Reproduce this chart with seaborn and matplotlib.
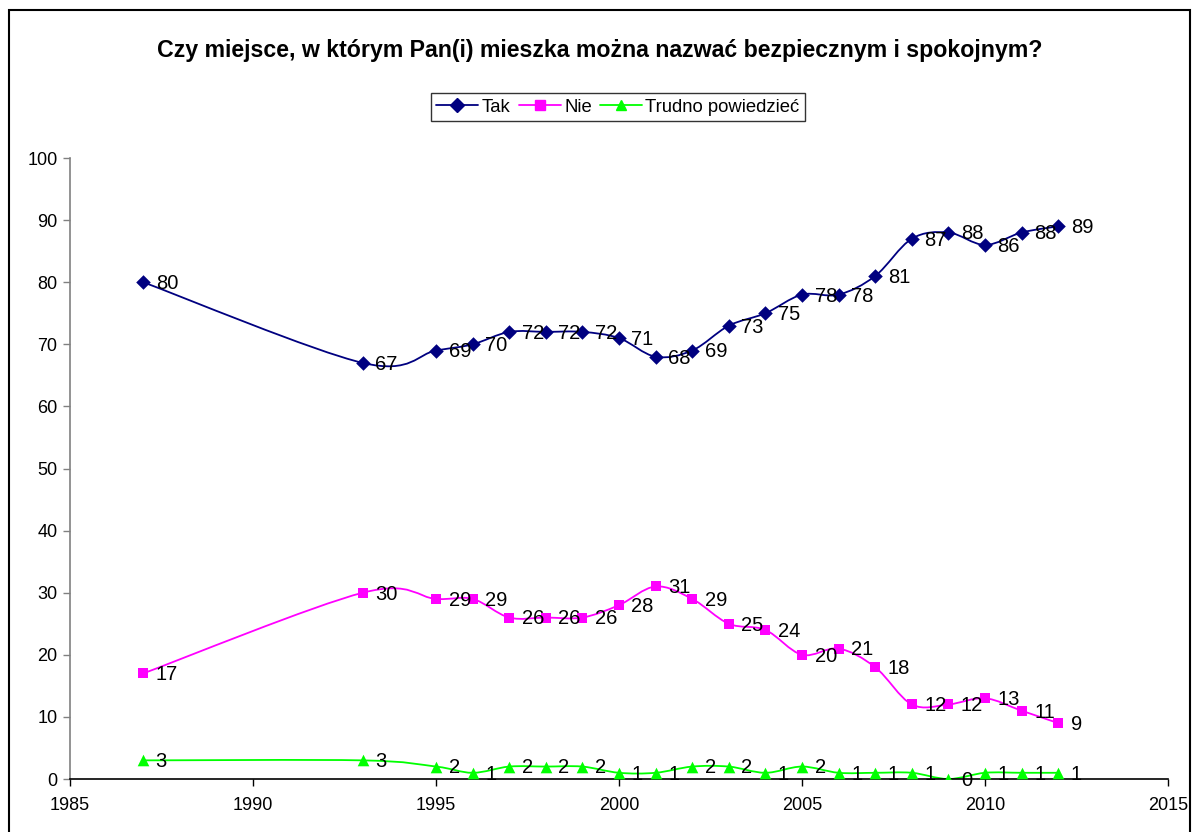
import numpy as np
import pandas as pd
import matplotlib
matplotlib.use("Agg")
import matplotlib.pyplot as plt
from matplotlib.path import Path
from matplotlib.patches import PathPatch, Rectangle
from matplotlib.lines import Line2D
import seaborn as sns

years = [1987, 1993, 1995, 1996, 1997, 1998, 1999, 2000, 2001, 2002,
         2003, 2004, 2005, 2006, 2007, 2008, 2009, 2010, 2011, 2012]
tak = [80, 67, 69, 70, 72, 72, 72, 71, 68, 69, 73, 75, 78, 78, 81, 87, 88, 86, 88, 89]
nie = [17, 30, 29, 29, 26, 26, 26, 28, 31, 29, 25, 24, 20, 21, 18, 12, 12, 13, 11, 9]
trudno = [3, 3, 2, 1, 2, 2, 2, 1, 1, 2, 2, 1, 2, 1, 1, 1, 0, 1, 1, 1]
series_names = ["Tak", "Nie", "Trudno powiedzieć"]
title = "Czy miejsce, w którym Pan(i) mieszka można nazwać bezpiecznym i spokojnym?"
x_ticks = [1985, 1990, 1995, 2000, 2005, 2010, 2015]
y_ticks = list(range(0, 101, 10))

colors = {"Tak": "#000080", "Nie": "#FF00FF", "Trudno powiedzieć": "#00FF00"}
markers = {"Tak": "D", "Nie": "s", "Trudno powiedzieć": "^"}
msizes = {"Tak": 55, "Nie": 55, "Trudno powiedzieć": 70}

df = pd.DataFrame({"year": years * 3,
                   "value": tak + nie + trudno,
                   "series": sum([[n] * len(years) for n in series_names], [])})

sns.set_style("white")
plt.rcParams['font.family'] = ['Liberation Sans', 'DejaVu Sans']
plt.rcParams['text.color'] = 'black'
plt.rcParams['xtick.color'] = 'black'
plt.rcParams['ytick.color'] = 'black'
plt.rcParams['axes.labelcolor'] = 'black'

fig = plt.figure(figsize=(11.92, 8.32), dpi=100)
ax = fig.add_axes([70 / 1192, 53 / 832, 1098 / 1192, 621 / 832])


def smooth_path(xs, ys):
    pts = np.column_stack([xs, ys]).astype(float)
    verts = [tuple(pts[0])]
    codes = [Path.MOVETO]
    n = len(pts)
    for i in range(n - 1):
        p0 = pts[i - 1] if i > 0 else pts[i]
        p1 = pts[i]
        p2 = pts[i + 1]
        p3 = pts[i + 2] if i + 2 < n else pts[i + 1]
        c1 = p1 + (p2 - p0) / 6.0
        c2 = p2 - (p3 - p1) / 6.0
        verts += [tuple(c1), tuple(c2), tuple(p2)]
        codes += [Path.CURVE4] * 3
    return Path(verts, codes)


for name in series_names:
    sub = df[df["series"] == name]
    patch = PathPatch(smooth_path(sub["year"].values, sub["value"].values),
                      facecolor="none", edgecolor=colors[name], lw=1.3, zorder=2)
    ax.add_patch(patch)
    sns.scatterplot(data=sub, x="year", y="value", ax=ax, color=colors[name],
                    marker=markers[name], s=msizes[name], edgecolor=colors[name],
                    linewidth=0, zorder=3, legend=False)
    for xv, yv in zip(sub["year"], sub["value"]):
        ax.annotate(str(yv), (xv, yv), xytext=(9, -1), textcoords="offset points",
                    ha="left", va="center", fontsize=14.5, color="black", zorder=4)

ax.set_xlim(1985, 2015)
ax.set_ylim(0, 100)
ax.set_xticks(x_ticks)
ax.set_yticks(y_ticks)
ax.set_xlabel("")
ax.set_ylabel("")
ax.tick_params(axis="both", labelsize=13, length=5, width=1, direction="out",
               color="#808080", labelcolor="black", left=True, bottom=True, pad=4)
ax.tick_params(axis="x", color="black", pad=8)
for s in ["top", "right"]:
    ax.spines[s].set_visible(False)
ax.spines["left"].set_color("#808080")
ax.spines["bottom"].set_color("black")
ax.spines["left"].set_linewidth(1.2)
ax.spines["bottom"].set_linewidth(1.2)
ax.patch.set_alpha(0)

fig.text(600 / 1192, 1 - 50 / 832, title, ha="center", va="center",
         fontsize=16.7, fontweight="bold", color="black")

handles = [Line2D([0], [0], color=colors[n], marker=markers[n], markersize=7,
                  lw=1.3, markeredgecolor=colors[n]) for n in series_names]
leg = fig.legend(handles, series_names, loc="center", bbox_to_anchor=(618 / 1192, 1 - 107 / 832),
                 ncol=3, frameon=True, fancybox=False, edgecolor="black", fontsize=13.3,
                 handlelength=2.27, handletextpad=0.18, columnspacing=0.45,
                 borderpad=0.3, borderaxespad=0)
leg.get_frame().set_linewidth(1.0)

fig.patches.append(Rectangle((9 / 1192, -0.02), 1181 / 1192, 1 - 10 / 832 + 0.02,
                             transform=fig.transFigure, fill=False,
                             edgecolor="black", lw=1.5))

fig.savefig("out.png", dpi=100)
